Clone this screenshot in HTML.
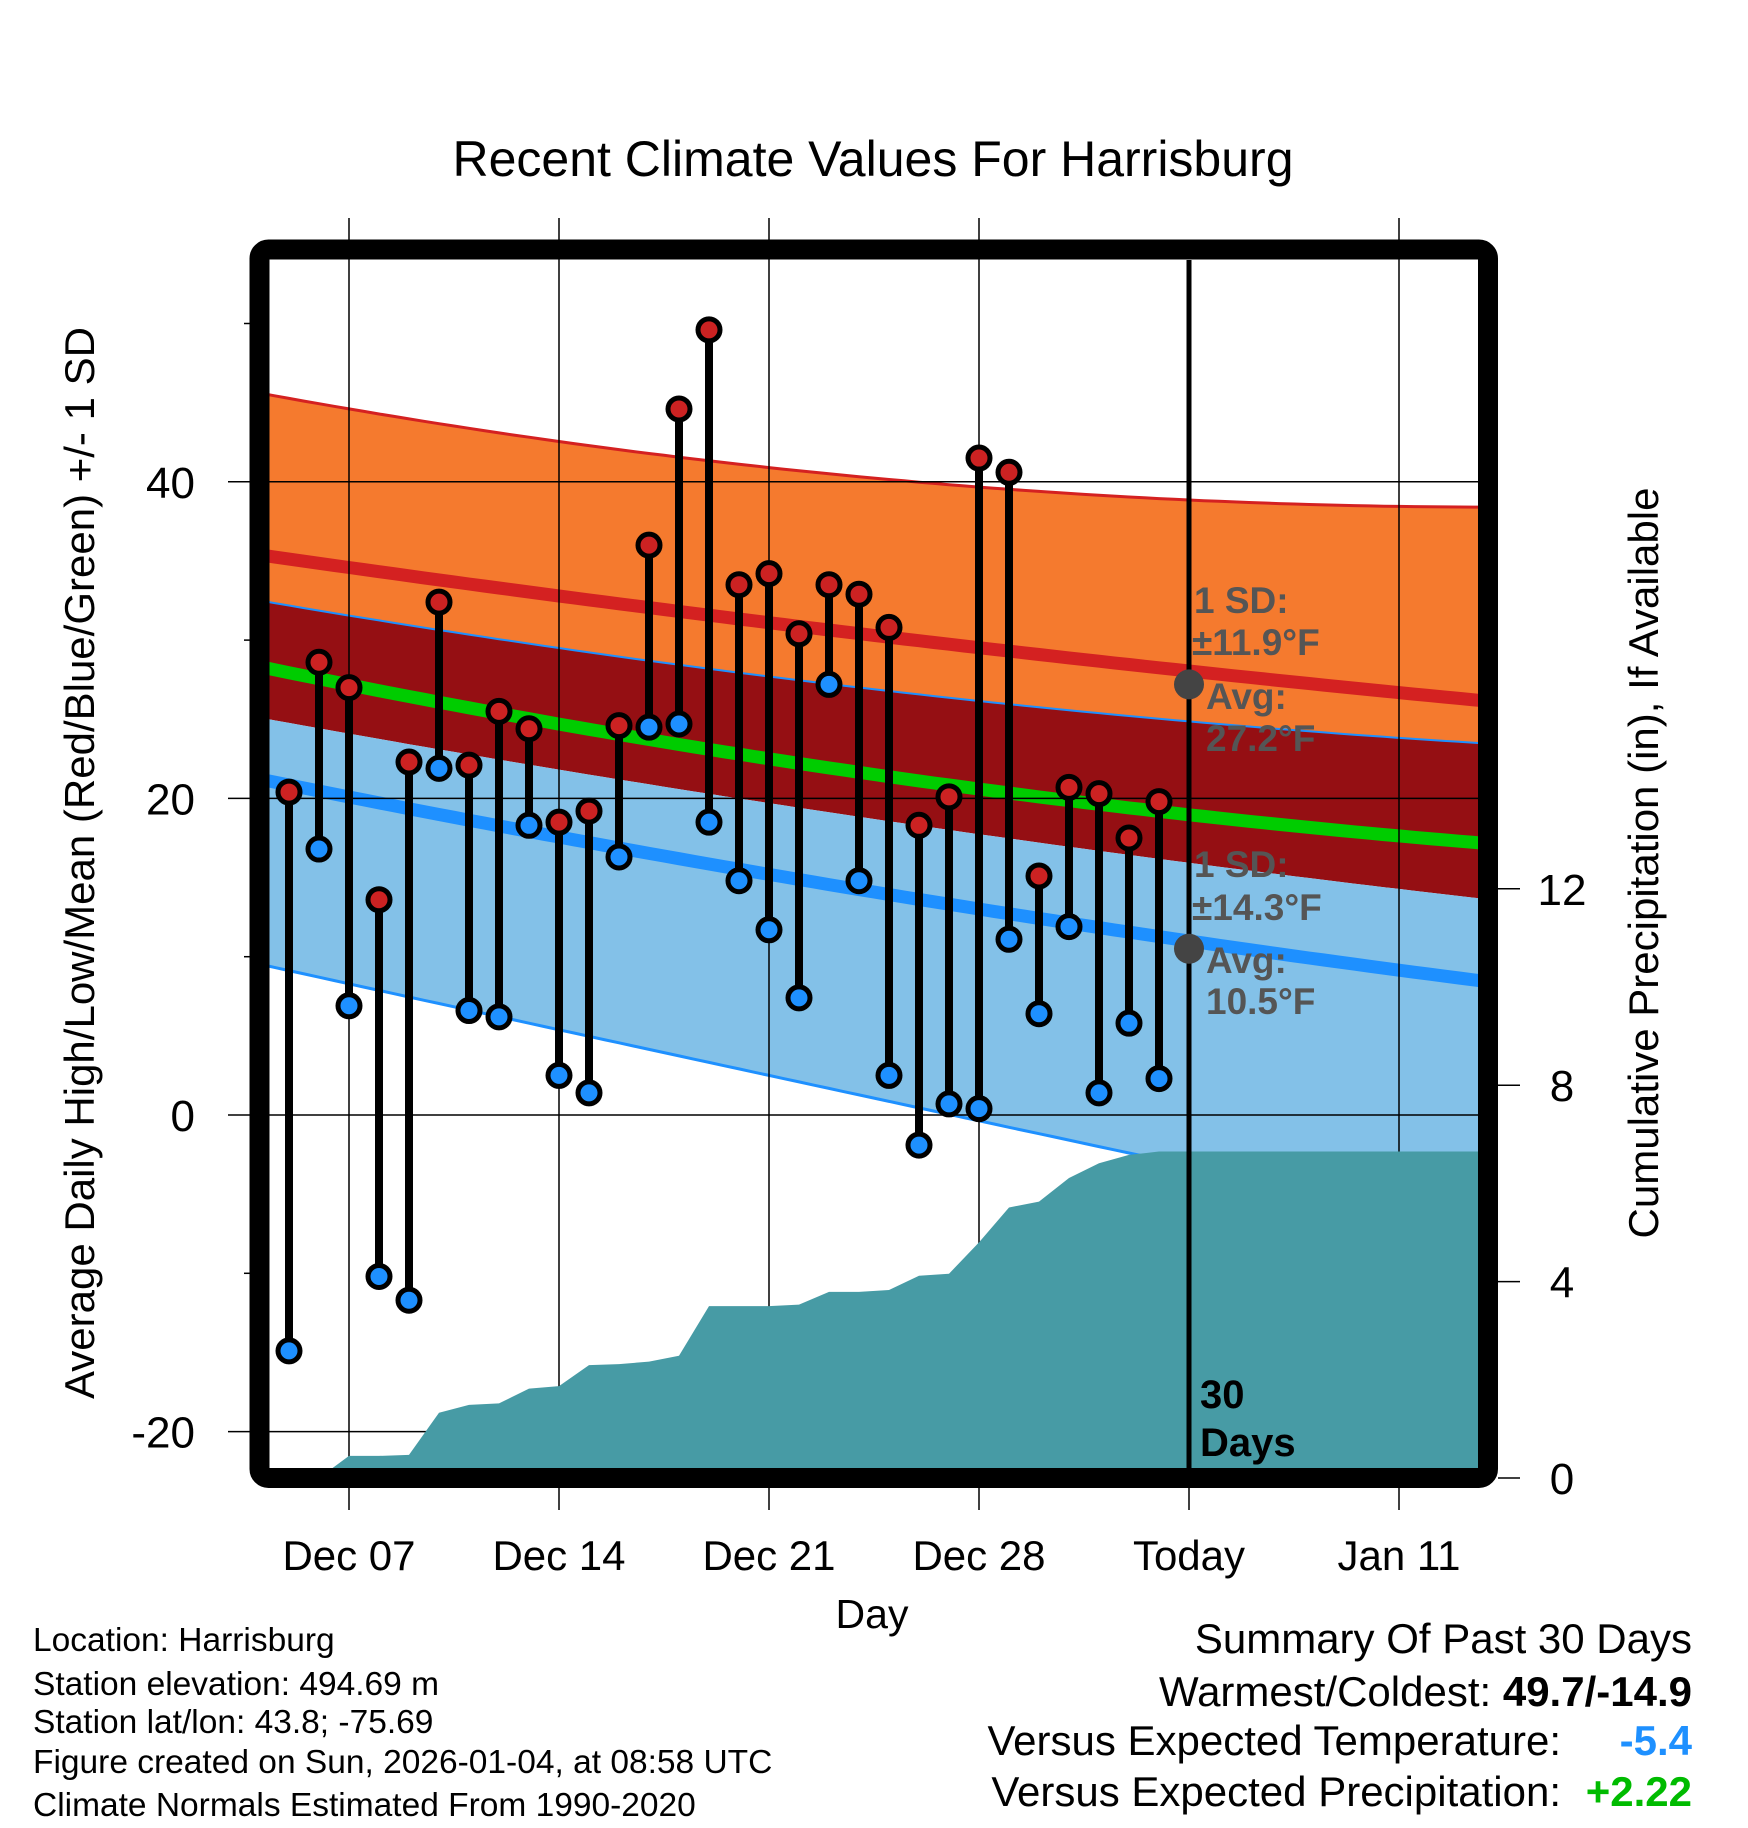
<!DOCTYPE html>
<html><head><meta charset="utf-8">
<style>
html,body{margin:0;padding:0;background:#fff;}
svg{display:block;font-family:"Liberation Sans",Arial,sans-serif;}
</style></head>
<body>
<svg id="chart" width="1748" height="1828" viewBox="0 0 1748 1828" xmlns="http://www.w3.org/2000/svg">
<defs><clipPath id="plotclip"><rect x="269" y="260" width="1209" height="1208"/></clipPath></defs>
<text x="873" y="176" font-size="50" text-anchor="middle">Recent Climate Values For Harrisburg</text>
<g id="bands" clip-path="url(#plotclip)"></g>
<g id="grid"></g>
<g id="precip" clip-path="url(#plotclip)"></g>
<g id="marks"></g>
<rect x="259.5" y="249.5" width="1228.5" height="1228.5" rx="9" fill="none" stroke="#000" stroke-width="20"/>
<g id="axes"></g>
<text transform="translate(94,863) rotate(-90)" font-size="42" text-anchor="middle">Average Daily High/Low/Mean (Red/Blue/Green) +/- 1 SD</text>
<text transform="translate(1658,863) rotate(-90)" font-size="42" text-anchor="middle">Cumulative Precipitation (in), If Available</text>
<text x="872" y="1628" font-size="41" text-anchor="middle">Day</text>
<g font-size="33.5">
<text x="33" y="1651">Location: Harrisburg</text>
<text x="33" y="1695">Station elevation: 494.69 m</text>
<text x="33" y="1733">Station lat/lon: 43.8; -75.69</text>
<text x="33" y="1773">Figure created on Sun, 2026-01-04, at 08:58 UTC</text>
<text x="33" y="1816">Climate Normals Estimated From 1990-2020</text>
</g>
<g font-size="42" text-anchor="end">
<text x="1692" y="1653">Summary Of Past 30 Days</text>
<text x="1692" y="1706">Warmest/Coldest: <tspan font-weight="bold">49.7/-14.9</tspan></text>
<text x="1561" y="1755">Versus Expected Temperature:</text>
<text x="1692" y="1755" font-weight="bold" fill="#1e90ff">-5.4</text>
<text x="1561" y="1806">Versus Expected Precipitation:</text>
<text x="1692" y="1806" font-weight="bold" fill="#00bb00">+2.22</text>
</g>
<script>
// ---- data ----
const highs=[20.4,28.6,27.0,13.6,22.3,32.4,22.1,25.5,24.4,18.5,19.2,24.6,36.0,44.6,49.6,33.5,34.2,30.4,33.5,32.9,30.8,18.3,20.1,41.5,40.6,15.1,20.7,20.3,17.5,19.8];
const lows=[-14.9,16.8,6.9,-10.2,-11.7,21.9,6.6,6.2,18.3,2.5,1.4,16.3,24.5,24.7,18.5,14.8,11.7,7.4,27.2,14.8,2.5,-1.9,0.7,0.4,11.1,6.4,11.9,1.4,5.8,2.3];
const precip=[0,0,0.45,0.45,0.47,1.33,1.49,1.52,1.82,1.87,2.30,2.32,2.37,2.49,3.50,3.50,3.50,3.53,3.79,3.79,3.83,4.12,4.16,4.80,5.51,5.63,6.11,6.41,6.58,6.65];
// normals at anchor day indices (0 = Dec 05)
const normDays=[-0.67,16,39.63];
const hiPlusSD=[45.5,40.9,38.4];
const hiMean=[35.3,31.1,26.2];
const hiMinusSD=[32.4,27.7,23.5];
const meanTemp=[28.2,22.5,17.2];
const loPlusSD=[25.0,19.7,13.7];
const loMean=[21.1,15.2,8.5];
const loMinusSD=[9.4,2.5,-7.1];
const xTickLabels=["Dec 07","Dec 14","Dec 21","Dec 28","Today","Jan 11"];
const xTickDays=[2,9,16,23,30,37];
const yTicks=[-20,0,20,40];
const yMinor=[-10,10,30,50];
const y2Ticks=[0,4,8,12];
// ---- scales ----
const X=d=>289+30*d;
const Y=t=>1115-15.83*t;
const YP=p=>1478-49.1*p;
const NS='http://www.w3.org/2000/svg';
function mk(tag,attrs,parent){const e=document.createElementNS(NS,tag);for(const k in attrs)e.setAttribute(k,attrs[k]);parent.appendChild(e);return e;}
function interp(arr,d){const[x0,x1,x2]=normDays;const[a,b,c]=arr;
 return a*(d-x1)*(d-x2)/((x0-x1)*(x0-x2))+b*(d-x0)*(d-x2)/((x1-x0)*(x1-x2))+c*(d-x0)*(d-x1)/((x2-x0)*(x2-x1));}
const samp=[];for(let d=-1.5;d<=41;d+=0.5)samp.push(d);
const line=arr=>samp.map(d=>X(d).toFixed(1)+','+Y(interp(arr,d)).toFixed(1));
const band=(top,bot)=>line(top).concat(line(bot).reverse()).join(' ');
const bands=document.getElementById('bands');
let e;
e=mk('polygon',{points:band(hiPlusSD,hiMinusSD),fill:'#f57a2e'},bands);


e=mk('polygon',{points:band(hiMinusSD,loPlusSD),fill:'#950f13'},bands);


e=mk('polygon',{points:band(loPlusSD,loMinusSD),fill:'#83c1e8'},bands);


const lines=[[hiPlusSD,'#d42121',3,'high-plus-sd-line'],[hiMean,'#d42121',13,'high-mean-line'],[hiMinusSD,'#1e90ff',2,'high-minus-sd-line'],[meanTemp,'#00cc00',13,'mean-line'],[loMean,'#1e90ff',13,'low-mean-line'],[loMinusSD,'#1e90ff',3,'low-minus-sd-line']];
lines.forEach(l=>{const p=mk('polyline',{points:line(l[0]).join(' '),fill:'none',stroke:l[1],'stroke-width':l[2]},bands);

});
// grid
const grid=document.getElementById('grid');
xTickDays.forEach((d,i)=>{if(i===4)return;const g=mk('line',{x1:X(d),x2:X(d),y1:218,y2:1510,stroke:'#000','stroke-width':1.5},grid);

});
mk('line',{x1:X(30),x2:X(30),y1:1478,y2:1510,stroke:'#000','stroke-width':1.5},grid);
yTicks.forEach(t=>{const g=mk('line',{x1:228,x2:1478,y1:Y(t),y2:Y(t),stroke:'#000','stroke-width':1.5},grid);

});
yMinor.forEach(t=>{const g=mk('line',{x1:244,x2:260,y1:Y(t),y2:Y(t),stroke:'#000','stroke-width':1.5},grid);

});
// precip
const pg=document.getElementById('precip');
let pts=[X(0)+','+1480];
precip.forEach((p,i)=>pts.push(X(i)+','+YP(p)));
pts.push('1480,'+YP(precip[precip.length-1]));pts.push('1480,1480');
e=mk('polygon',{points:pts.join(' '),fill:'#479ba5'},pg);


// marks
const m=document.getElementById('marks');
e=mk('line',{x1:X(30),x2:X(30),y1:260,y2:1468,stroke:'#000','stroke-width':5},m);


highs.forEach((h,i)=>{const s=mk('line',{x1:X(i),x2:X(i),y1:Y(h),y2:Y(lows[i]),stroke:'#000','stroke-width':8},m);

});
highs.forEach((h,i)=>{const c=mk('circle',{cx:X(i),cy:Y(h),r:11,fill:'#cc2222',stroke:'#000','stroke-width':5},m);


const c2=mk('circle',{cx:X(i),cy:Y(lows[i]),r:11,fill:'#1e90ff',stroke:'#000','stroke-width':5},m);

});
// annotations
e=mk('circle',{cx:X(30),cy:Y(27.2),r:15,fill:'#444'},m);


e=mk('circle',{cx:X(30),cy:Y(10.5),r:15,fill:'#444'},m);


const ann=[['1 SD:',1194,613,'high-sd-label'],['±11.9°F',1192,655,'high-sd-value'],['Avg:',1206,709,'high-avg-label'],['27.2°F',1206,751,'high-avg-value'],['1 SD:',1194,877,'low-sd-label'],['±14.3°F',1192,920,'low-sd-value'],['Avg:',1206,973,'low-avg-label'],['10.5°F',1206,1014,'low-avg-value']];
ann.forEach(a=>{const t=mk('text',{x:a[1],y:a[2],'font-size':37,'font-weight':'bold',fill:'#555'},m);t.textContent=a[0];

});
[['30',1408],['Days',1456]].forEach(a=>{const t=mk('text',{x:1200,y:a[1],'font-size':40,'font-weight':'bold',fill:'#000'},m);t.textContent=a[0];

});
// axes labels
const ax=document.getElementById('axes');
xTickDays.forEach((d,i)=>{const t=mk('text',{x:X(d),y:1570,'font-size':42,'text-anchor':'middle'},ax);t.textContent=xTickLabels[i];

});
yTicks.forEach(v=>{const t=mk('text',{x:195,y:Y(v)+16,'font-size':44,'text-anchor':'end'},ax);t.textContent=v;

});
y2Ticks.forEach(v=>{const l=mk('line',{x1:1498,x2:1520,y1:YP(v),y2:YP(v),stroke:'#000','stroke-width':1.5},ax);


const t=mk('text',{x:1562,y:YP(v)+16,'font-size':44,'text-anchor':'middle'},ax);t.textContent=v;

});
</script>
</svg>
</body></html>
